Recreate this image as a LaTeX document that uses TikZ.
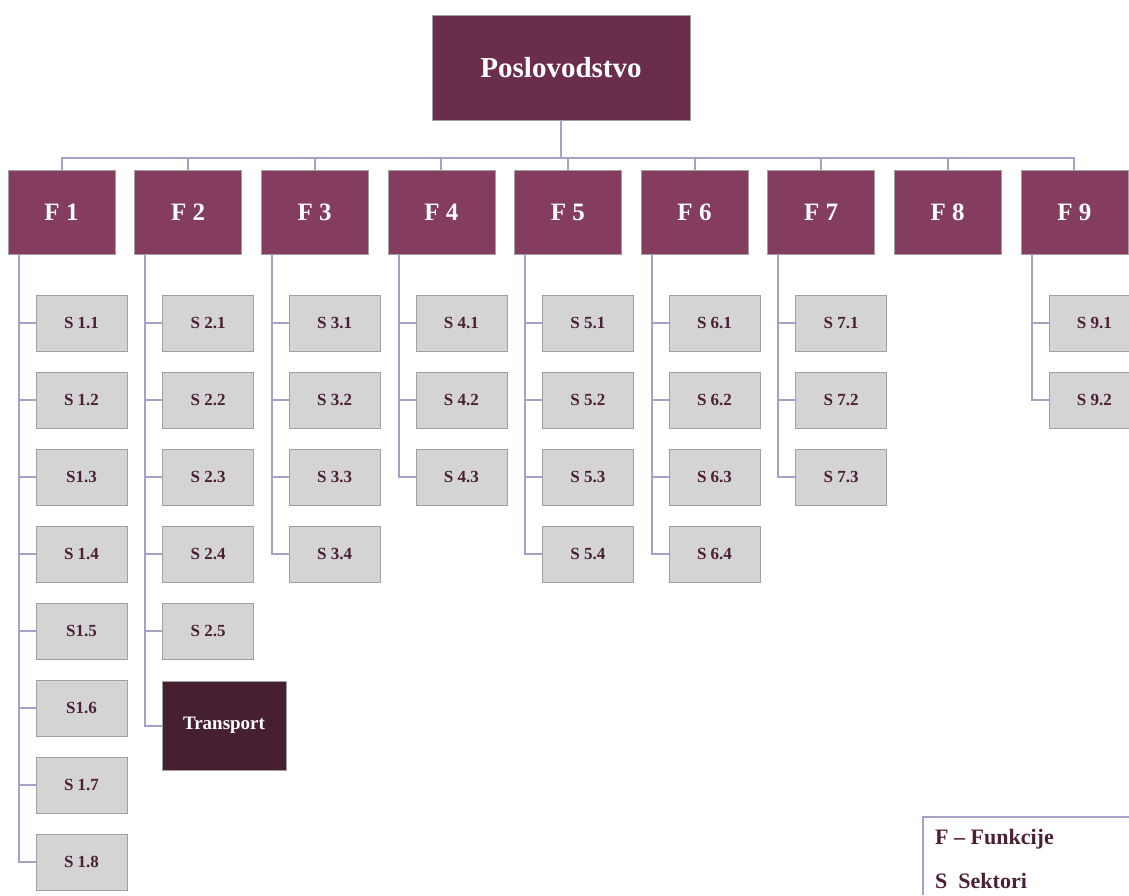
\documentclass[tikz,border=0pt]{standalone}
\usepackage{fontspec}
\setmainfont{Liberation Serif}
\definecolor{topc}{HTML}{6A2E4C}
\definecolor{fc}{HTML}{853D5F}
\definecolor{trc}{HTML}{462031}
\definecolor{sfill}{HTML}{D4D4D4}
\definecolor{sdraw}{HTML}{A0A0A0}
\definecolor{stext}{HTML}{4B1F35}
\definecolor{connc}{HTML}{A3A3C8}
\tikzset{
  topbox/.style={draw=sdraw, fill=topc, text=white, font=\bfseries\fontsize{29}{34}\selectfont, minimum width=258pt, minimum height=105pt, inner sep=0pt},
  fbox/.style={draw=sdraw, fill=fc, text=white, font=\bfseries\fontsize{25}{30}\selectfont, minimum width=107pt, minimum height=84pt, inner sep=0pt},
  sbox/.style={draw=sdraw, fill=sfill, text=stext, font=\bfseries\fontsize{17}{20}\selectfont, minimum width=91pt, minimum height=56pt, inner sep=0pt},
  trbox/.style={draw=sdraw, fill=trc, text=white, font=\bfseries\fontsize{19}{22}\selectfont, minimum width=124pt, minimum height=89pt, inner sep=0pt},
  conn/.style={draw=connc, line width=2pt},
  legtext/.style={text=stext, font=\bfseries\fontsize{22}{26}\selectfont, anchor=west, inner sep=0pt}
}
\begin{document}
\begin{tikzpicture}[x=1pt,y=-1pt]
\useasboundingbox (0,0) rectangle (1129,895);
\node[topbox] (top) at (561,67.5) {Poslovodstvo};
\coordinate (bus) at (561,158);
\foreach \i in {1,...,9} {
  \node[fbox] (F\i) at ({61.5+126.6*(\i-1)},212) {F \i};
}
\draw[conn] (top.south) -- (bus);
\foreach \i in {1,...,9} { \draw[conn] (F\i.north) |- (bus); }
% sectors
\foreach \i/\k/\lab in {
  1/1/S 1.1, 1/2/S 1.2, 1/3/S1.3, 1/4/S 1.4, 1/5/S1.5, 1/6/S1.6, 1/7/S 1.7, 1/8/S 1.8,
  2/1/S 2.1, 2/2/S 2.2, 2/3/S 2.3, 2/4/S 2.4, 2/5/S 2.5,
  3/1/S 3.1, 3/2/S 3.2, 3/3/S 3.3, 3/4/S 3.4,
  4/1/S 4.1, 4/2/S 4.2, 4/3/S 4.3,
  5/1/S 5.1, 5/2/S 5.2, 5/3/S 5.3, 5/4/S 5.4,
  6/1/S 6.1, 6/2/S 6.2, 6/3/S 6.3, 6/4/S 6.4,
  7/1/S 7.1, 7/2/S 7.2, 7/3/S 7.3,
  9/1/S 9.1, 9/2/S 9.2} {
  \node[sbox] (S\i\k) at ({81.5+126.6*(\i-1)},{323+77*(\k-1)}) {\lab};
  \draw[conn] ([xshift=11pt]F\i.south west) |- (S\i\k.west);
}
\node[trbox] (tr) at (224,725.5) {Transport};
\draw[conn] ([xshift=11pt]F2.south west) |- (tr.west);
% legend
\coordinate (lgA) at (923,895);
\coordinate (lgB) at (1129,817);
\draw[conn] (lgA) |- (lgB);
\node[legtext] (l1) at (935,839) {F – Funkcije};
\node[legtext] (l2) at (935,881) {S\ \ Sektori};
\end{tikzpicture}
\end{document}
